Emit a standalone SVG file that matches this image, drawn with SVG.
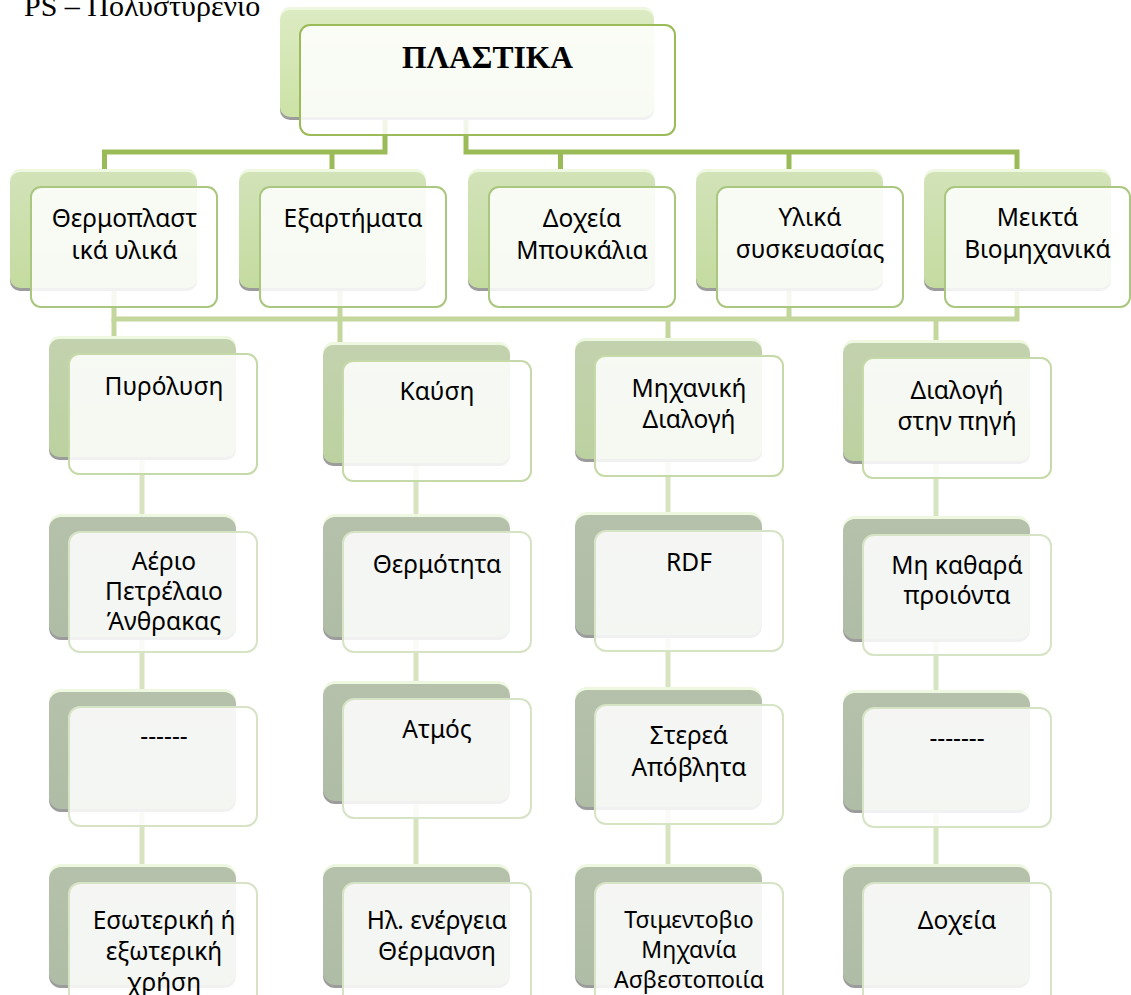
<svg xmlns="http://www.w3.org/2000/svg" width="1131" height="995" viewBox="0 0 1131 995">
  <defs>
    <linearGradient id="g0" x1="0" y1="0" x2="0" y2="1">
      <stop offset="0" stop-color="#dcebc2"/>
      <stop offset="1" stop-color="#cce2a6"/>
    </linearGradient>
    <linearGradient id="g1" x1="0" y1="0" x2="0" y2="1">
      <stop offset="0" stop-color="#d2e3b8"/>
      <stop offset="1" stop-color="#c4dba0"/>
    </linearGradient>
    <linearGradient id="g2" x1="0" y1="0" x2="0" y2="1">
      <stop offset="0" stop-color="#c3d2ae"/>
      <stop offset="1" stop-color="#bcd1a0"/>
    </linearGradient>
    <linearGradient id="g3" x1="0" y1="0" x2="0" y2="1">
      <stop offset="0" stop-color="#b5c1ab"/>
      <stop offset="1" stop-color="#b0bda6"/>
    </linearGradient>
    <style>
      .shadow { fill: #9c9c9c; }
      .hl { fill: #eef7e0; }
      .b0 { fill: url(#g0); }
      .b1 { fill: url(#g1); }
      .b2 { fill: url(#g2); }
      .b3 { fill: url(#g3); }
      .front { fill: #ffffff; fill-opacity: 0.86; stroke-width: 2; }
      .f0 { stroke: #9bbb59; }
      .f1 { stroke: #a9c77f; }
      .f2 { stroke: #c6d9a8; }
      .f3 { stroke: #d6e3c5; }
      .c0 { fill: none; stroke: #9bbb59; stroke-width: 5; }
      .c1 { fill: none; stroke: #c3d69b; stroke-width: 5; }
      .c2 { fill: none; stroke: #d7e4bf; stroke-width: 5; }
      .lbl { font-family: "Noto Sans", "Open Sans", "DejaVu Sans", sans-serif; font-size: 24.5px; fill: #000; text-anchor: middle; }
      .sm { font-size: 23px; }
      .title { font-family: "Liberation Serif", "Times New Roman", serif; font-size: 31.5px; font-weight: bold; fill: #000; text-anchor: middle; }
      .note { font-family: "Liberation Serif", "Times New Roman", serif; font-size: 30px; fill: #000; }
    </style>
  </defs>

  <rect width="1131" height="995" fill="#ffffff"/>

  <text class="note" x="24" y="16">PS – Πολυστυρένιο</text>

  <!-- connectors -->
  <g id="connectors">
    <path class="c0" d="M385,112 V152 H104.5 V174"/>
    <path class="c0" d="M332,152 V174"/>
    <path class="c0" d="M466,112 V152 H1017 V174"/>
    <path class="c0" d="M560.5,152 V174"/>
    <path class="c0" d="M789,152 V174"/>

    <path class="c1" d="M114,285 V319 H1017 V285"/>
    <path class="c1" d="M340,285 V347"/>
    <path class="c1" d="M789,285 V319"/>
    <path class="c1" d="M114,319 V341"/>
    <path class="c1" d="M668,319 V343"/>
    <path class="c1" d="M936,319 V345"/>

    <path class="c2" d="M142,450 V870"/>
    <path class="c2" d="M416,455 V870"/>
    <path class="c2" d="M668,450 V870"/>
    <path class="c2" d="M936,455 V870"/>
  </g>

  <!-- level 0 -->
  <g id="n-plastika">
    <rect class="shadow" x="280" y="13" width="374" height="107" rx="10"/>
    <rect class="hl" x="280" y="7" width="374" height="107" rx="10"/>
    <rect class="b0" x="280" y="10" width="374" height="107" rx="10"/>
    <rect class="front f0" x="300" y="25" width="375" height="110" rx="10"/>
    <text class="title" x="487.5" y="68">ΠΛΑΣΤΙΚΑ</text>
  </g>

  <!-- level 1 -->
  <g id="n-thermoplastika">
    <rect class="shadow" x="10" y="175" width="187" height="116" rx="10"/>
    <rect class="hl" x="10" y="169" width="187" height="116" rx="10"/>
    <rect class="b1" x="10" y="172" width="187" height="116" rx="10"/>
    <rect class="front f1" x="31" y="187" width="186" height="120" rx="10"/>
    <text class="lbl" x="124.5" y="227">Θερμοπλαστ</text>
    <text class="lbl" x="124.5" y="259">ικά υλικά</text>
  </g>
  <g id="n-eksartimata">
    <rect class="shadow" x="239" y="175" width="187" height="116" rx="10"/>
    <rect class="hl" x="239" y="169" width="187" height="116" rx="10"/>
    <rect class="b1" x="239" y="172" width="187" height="116" rx="10"/>
    <rect class="front f1" x="260" y="187" width="186" height="120" rx="10"/>
    <text class="lbl" x="353" y="227">Εξαρτήματα</text>
  </g>
  <g id="n-doxeia">
    <rect class="shadow" x="468" y="175" width="187" height="116" rx="10"/>
    <rect class="hl" x="468" y="169" width="187" height="116" rx="10"/>
    <rect class="b1" x="468" y="172" width="187" height="116" rx="10"/>
    <rect class="front f1" x="489" y="187" width="186" height="120" rx="10"/>
    <text class="lbl" x="582" y="227">Δοχεία</text>
    <text class="lbl" x="582" y="259">Μπουκάλια</text>
  </g>
  <g id="n-ylika">
    <rect class="shadow" x="696" y="175" width="187" height="116" rx="10"/>
    <rect class="hl" x="696" y="169" width="187" height="116" rx="10"/>
    <rect class="b1" x="696" y="172" width="187" height="116" rx="10"/>
    <rect class="front f1" x="717" y="187" width="186" height="120" rx="10"/>
    <text class="lbl" x="810" y="226">Υλικά</text>
    <text class="lbl" x="810" y="258">συσκευασίας</text>
  </g>
  <g id="n-meikta">
    <rect class="shadow" x="924" y="175" width="187" height="116" rx="10"/>
    <rect class="hl" x="924" y="169" width="187" height="116" rx="10"/>
    <rect class="b1" x="924" y="172" width="187" height="116" rx="10"/>
    <rect class="front f1" x="945" y="187" width="185" height="120" rx="10"/>
    <text class="lbl" x="1037.5" y="226">Μεικτά</text>
    <text class="lbl" x="1037.5" y="258">Βιομηχανικά</text>
  </g>

  <!-- level 2 -->
  <g id="n-pyrolysi">
    <rect class="shadow" x="49" y="342" width="187" height="118" rx="10"/>
    <rect class="hl" x="49" y="336" width="187" height="118" rx="10"/>
    <rect class="b2" x="49" y="339" width="187" height="118" rx="10"/>
    <rect class="front f2" x="69" y="354" width="188" height="120" rx="10"/>
    <text class="lbl" x="164" y="395">Πυρόλυση</text>
  </g>
  <g id="n-kausi">
    <rect class="shadow" x="323" y="348" width="187" height="118" rx="10"/>
    <rect class="hl" x="323" y="342" width="187" height="118" rx="10"/>
    <rect class="b2" x="323" y="345" width="187" height="118" rx="10"/>
    <rect class="front f2" x="343" y="361" width="188" height="120" rx="10"/>
    <text class="lbl" x="437" y="400">Καύση</text>
  </g>
  <g id="n-mixaniki">
    <rect class="shadow" x="575" y="344" width="187" height="118" rx="10"/>
    <rect class="hl" x="575" y="338" width="187" height="118" rx="10"/>
    <rect class="b2" x="575" y="341" width="187" height="118" rx="10"/>
    <rect class="front f2" x="595" y="356" width="188" height="120" rx="10"/>
    <text class="lbl" x="689" y="397">Μηχανική</text>
    <text class="lbl" x="689" y="428">Διαλογή</text>
  </g>
  <g id="n-dialogi-pigi">
    <rect class="shadow" x="843" y="346" width="187" height="118" rx="10"/>
    <rect class="hl" x="843" y="340" width="187" height="118" rx="10"/>
    <rect class="b2" x="843" y="343" width="187" height="118" rx="10"/>
    <rect class="front f2" x="863" y="358" width="188" height="120" rx="10"/>
    <text class="lbl" x="957" y="399">Διαλογή</text>
    <text class="lbl" x="957" y="430">στην πηγή</text>
  </g>

  <!-- level 3 -->
  <g id="n-aerio">
    <rect class="shadow" x="49" y="520" width="187" height="120" rx="12"/>
    <rect class="hl" x="49" y="514" width="187" height="120" rx="12"/>
    <rect class="b3" x="49" y="517" width="187" height="120" rx="12"/>
    <rect class="front f3" x="69" y="532" width="188" height="120" rx="11"/>
    <text class="lbl" x="164" y="570">Αέριο</text>
    <text class="lbl" x="164" y="600">Πετρέλαιο</text>
    <text class="lbl" x="164" y="630">Άνθρακας</text>
  </g>
  <g id="n-thermotita">
    <rect class="shadow" x="323" y="520" width="187" height="120" rx="12"/>
    <rect class="hl" x="323" y="514" width="187" height="120" rx="12"/>
    <rect class="b3" x="323" y="517" width="187" height="120" rx="12"/>
    <rect class="front f3" x="343" y="532" width="188" height="120" rx="11"/>
    <text class="lbl" x="437" y="573">Θερμότητα</text>
  </g>
  <g id="n-rdf">
    <rect class="shadow" x="575" y="518" width="187" height="120" rx="12"/>
    <rect class="hl" x="575" y="512" width="187" height="120" rx="12"/>
    <rect class="b3" x="575" y="515" width="187" height="120" rx="12"/>
    <rect class="front f3" x="595" y="531" width="188" height="120" rx="11"/>
    <text class="lbl" x="689" y="571">RDF</text>
  </g>
  <g id="n-mi-kathara">
    <rect class="shadow" x="843" y="522" width="187" height="120" rx="12"/>
    <rect class="hl" x="843" y="516" width="187" height="120" rx="12"/>
    <rect class="b3" x="843" y="519" width="187" height="120" rx="12"/>
    <rect class="front f3" x="863" y="535" width="188" height="120" rx="11"/>
    <text class="lbl" x="957" y="574">Μη καθαρά</text>
    <text class="lbl" x="957" y="604">προιόντα</text>
  </g>

  <!-- level 4 -->
  <g id="n-keno-1">
    <rect class="shadow" x="49" y="695" width="187" height="117" rx="12"/>
    <rect class="hl" x="49" y="689" width="187" height="117" rx="12"/>
    <rect class="b3" x="49" y="692" width="187" height="117" rx="12"/>
    <rect class="front f3" x="69" y="707" width="188" height="119" rx="11"/>
    <text class="lbl" x="164" y="745">------</text>
  </g>
  <g id="n-atmos">
    <rect class="shadow" x="323" y="687" width="187" height="117" rx="12"/>
    <rect class="hl" x="323" y="681" width="187" height="117" rx="12"/>
    <rect class="b3" x="323" y="684" width="187" height="117" rx="12"/>
    <rect class="front f3" x="343" y="699" width="188" height="119" rx="11"/>
    <text class="lbl" x="437" y="738">Ατμός</text>
  </g>
  <g id="n-sterea">
    <rect class="shadow" x="575" y="693" width="187" height="117" rx="12"/>
    <rect class="hl" x="575" y="687" width="187" height="117" rx="12"/>
    <rect class="b3" x="575" y="690" width="187" height="117" rx="12"/>
    <rect class="front f3" x="595" y="705" width="188" height="119" rx="11"/>
    <text class="lbl" x="689" y="744">Στερεά</text>
    <text class="lbl" x="689" y="776">Απόβλητα</text>
  </g>
  <g id="n-keno-2">
    <rect class="shadow" x="843" y="696" width="187" height="117" rx="12"/>
    <rect class="hl" x="843" y="690" width="187" height="117" rx="12"/>
    <rect class="b3" x="843" y="693" width="187" height="117" rx="12"/>
    <rect class="front f3" x="863" y="708" width="188" height="119" rx="11"/>
    <text class="lbl" x="957" y="747">-------</text>
  </g>

  <!-- level 5 -->
  <g id="n-xrisi">
    <rect class="shadow" x="49" y="870" width="187" height="118" rx="12"/>
    <rect class="hl" x="49" y="864" width="187" height="118" rx="12"/>
    <rect class="b3" x="49" y="867" width="187" height="118" rx="12"/>
    <rect class="front f3" x="69" y="883" width="188" height="130" rx="11"/>
    <text class="lbl" x="164" y="929">Εσωτερική ή</text>
    <text class="lbl" x="164" y="960">εξωτερική</text>
    <text class="lbl" x="164" y="991">χρήση</text>
  </g>
  <g id="n-energeia">
    <rect class="shadow" x="323" y="870" width="187" height="118" rx="12"/>
    <rect class="hl" x="323" y="864" width="187" height="118" rx="12"/>
    <rect class="b3" x="323" y="867" width="187" height="118" rx="12"/>
    <rect class="front f3" x="343" y="883" width="188" height="130" rx="11"/>
    <text class="lbl" x="437" y="929">Ηλ. ενέργεια</text>
    <text class="lbl" x="437" y="960">Θέρμανση</text>
  </g>
  <g id="n-tsimentovio">
    <rect class="shadow" x="575" y="870" width="187" height="118" rx="12"/>
    <rect class="hl" x="575" y="864" width="187" height="118" rx="12"/>
    <rect class="b3" x="575" y="867" width="187" height="118" rx="12"/>
    <rect class="front f3" x="595" y="883" width="188" height="130" rx="11"/>
    <text class="lbl sm" x="689" y="928">Τσιμεντοβιο</text>
    <text class="lbl sm" x="689" y="958">Μηχανία</text>
    <text class="lbl sm" x="689" y="988">Ασβεστοποιία</text>
  </g>
  <g id="n-doxeia-2">
    <rect class="shadow" x="843" y="870" width="187" height="118" rx="12"/>
    <rect class="hl" x="843" y="864" width="187" height="118" rx="12"/>
    <rect class="b3" x="843" y="867" width="187" height="118" rx="12"/>
    <rect class="front f3" x="863" y="883" width="188" height="130" rx="11"/>
    <text class="lbl" x="957" y="929">Δοχεία</text>
  </g>
</svg>
